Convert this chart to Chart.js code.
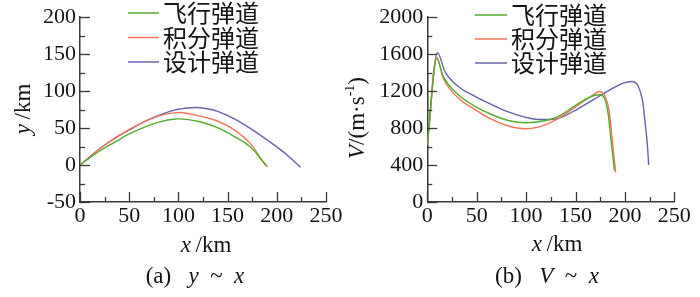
<!DOCTYPE html>
<html>
<head>
<meta charset="utf-8">
<script src="https://cdn.jsdelivr.net/npm/chart.js@4.4.1/dist/chart.umd.min.js"></script>
<style>
  html, body { margin: 0; padding: 0; background: #fff; }
  #fig { position: relative; width: 700px; height: 297px; overflow: hidden; }
  .panel { position: absolute; top: 0; height: 297px; }
  #panelA { left: 0; width: 345px; }
  #panelB { left: 345px; width: 355px; }
</style>
</head>
<body>
<div id="fig">
  <div class="panel" id="panelA"><canvas id="chartA"></canvas></div>
  <div class="panel" id="panelB"><canvas id="chartB"></canvas></div>
</div>
<script>
// series names and colours
const seriesNames = ['飞行弹道', '积分弹道', '设计弹道'];
const seriesColors = ['#55ad2c', '#f37458', '#6464aa'];

// (a) y ~ x   (x in km, y in km)
const flightTrajX = [0, 10, 20, 30, 40, 50, 65, 80, 97, 110, 122, 139, 156, 173, 184.6, 189.5];
const flightTrajY = [0, 10, 19, 27, 34.5, 42, 51, 58, 62.3, 61.5, 58.5, 50.9, 39.2, 24.7, 6.8, -1.5];
const integTrajX  = [0, 10, 20, 30, 40, 50, 65, 80, 95, 105, 122, 139, 156, 173, 184.6, 191];
const integTrajY  = [0, 11, 22, 31.5, 40, 48, 58.5, 66.5, 70.5, 70.8, 66.2, 59.9, 48.2, 29.3, 6.8, -2.5];
const designTrajX = [0, 10, 20, 30, 40, 50, 65, 80, 95, 112, 122, 139, 156, 173, 190, 207, 224];
const designTrajY = [0, 11, 22, 31.5, 40, 47.5, 58.5, 67, 74, 77.5, 77.5, 73, 63, 49.6, 34.2, 17.5, -3];

// (b) V ~ x   (x in km, V in m/s)
const flightVelX = [0, 9.5, 16.2, 31.4, 48.3, 65.2, 82, 98.9, 112.3, 124.2, 134.3, 151.2, 168, 174.8, 179.9, 183.2, 185.6, 188.3, 189.3];
const flightVel  = [620, 1553, 1357, 1161, 1036, 947, 882, 857, 868, 893, 935, 1054, 1150, 1161, 1107, 946, 696, 447, 340];
const integVelX  = [0, 9.5, 16.2, 31.4, 48.3, 65.2, 82, 98.9, 112.3, 124.2, 134.3, 151.2, 168, 174.1, 179.9, 184.2, 186.6, 189, 190.7];
const integVel   = [620, 1565, 1339, 1125, 1000, 893, 822, 793, 811, 857, 915, 1036, 1161, 1196, 1143, 982, 732, 482, 321];
const designVelX = [0, 10.3, 17.9, 31.4, 48.3, 65.2, 82, 98.9, 112.3, 124.2, 134.3, 151.2, 168, 184.9, 198.4, 206.9, 213.6, 218, 220.3, 222.7, 224.1];
const designVel  = [620, 1615, 1411, 1250, 1143, 1054, 975, 918, 893, 893, 911, 1000, 1107, 1214, 1286, 1304, 1250, 1089, 875, 625, 400];

// axis ranges / ticks
const xRange = [0, 250], xMajor = 50, xMinor = 25;
const yRangeA = [-50, 200], yMajorA = 50, yMinorA = 25;
const yRangeB = [0, 2000], yMajorB = 400, yMinorB = 200;

const serif = '"Liberation Serif", "DejaVu Serif", serif';
const cjk = '"Noto Sans CJK SC", sans-serif';
const axisColor = '#3f3733';
const textColor = '#141414';

function toPoints(xs, ys) {
    return xs.map((x, i) => ({ x: x, y: ys[i] }));
}

function makeDatasets(pairs, mode) {
    return pairs.map((p, i) => ({
        label: seriesNames[i],
        data: toPoints(p[0], p[1]),
        borderColor: seriesColors[i],
        borderWidth: 1.4,
        pointRadius: 0,
        fill: false,
        tension: 0.4,
        cubicInterpolationMode: mode
    }));
}

// draw a row of text pieces with mixed styles, centred on x
function drawRuns(ctx, runs, x, y) {
    let w = 0;
    runs.forEach(r => {
        ctx.font = r.font;
        w += ctx.measureText(r.text).width;
    });
    let cx = x - w / 2;
    runs.forEach(r => {
        ctx.font = r.font;
        ctx.fillText(r.text, cx, y + (r.dy || 0));
        cx += ctx.measureText(r.text).width;
    });
}

function run(text, italic, size, dy) {
    return { text: text, font: (italic ? 'italic ' : '') + (size || 23) + 'px ' + serif, dy: dy || 0 };
}

// ticks pointing into the plot, major and minor
const inwardTicks = {
    id: 'inwardTicks',
    afterDraw(chart, args, opts) {
        const ctx = chart.ctx;
        const area = chart.chartArea;
        ctx.save();
        ctx.strokeStyle = axisColor;
        ctx.lineWidth = 1.3;
        ['x', 'y'].forEach(id => {
            const s = chart.scales[id];
            const o = opts[id];
            for (let v = s.min; v <= s.max + 1e-6; v += o.minor) {
                const isMajor = Math.abs(v / o.major - Math.round(v / o.major)) < 1e-6;
                const len = isMajor ? 10 : 5;
                const p = Math.round(s.getPixelForValue(v)) + 0.5;
                ctx.beginPath();
                if (id === 'x') {
                    ctx.moveTo(p, area.bottom);
                    ctx.lineTo(p, area.bottom - len);
                } else {
                    ctx.moveTo(area.left, p);
                    ctx.lineTo(area.left + len, p);
                }
                ctx.stroke();
            }
        });
        ctx.restore();
    }
};

// legend, axis titles and caption
const figureText = {
    id: 'figureText',
    afterDraw(chart, args, o) {
        const ctx = chart.ctx;
        ctx.save();
        ctx.textBaseline = 'middle';
        ctx.textAlign = 'left';
        chart.data.datasets.forEach((ds, i) => {
            const y = o.legendY + i * o.legendDy;
            ctx.strokeStyle = ds.borderColor;
            ctx.lineWidth = 1.5;
            ctx.beginPath();
            ctx.moveTo(o.legendX, y);
            ctx.lineTo(o.legendX + o.legendLen, y);
            ctx.stroke();
            ctx.fillStyle = textColor;
            ctx.font = '24px ' + cjk;
            ctx.fillText(ds.label, o.legendX + o.legendLen + 4, y);
        });
        ctx.fillStyle = textColor;
        drawRuns(ctx, o.xTitle, o.xTitleX, o.xTitleY);
        drawRuns(ctx, o.caption, o.captionX, o.captionY);
        ctx.translate(o.yTitleX, o.yTitleY);
        ctx.rotate(-Math.PI / 2);
        drawRuns(ctx, o.yTitle, 0, 0);
        ctx.restore();
    }
};

function makeChart(canvasId, datasets, yRange, yMajor, yMinor, yWidth, pad, text) {
    return new Chart(document.getElementById(canvasId), {
        type: 'line',
        data: { datasets: datasets },
        plugins: [inwardTicks, figureText],
        options: {
            responsive: true,
            maintainAspectRatio: false,
            animation: false,
            layout: { padding: pad },
            plugins: {
                legend: { display: false },
                tooltip: { enabled: false },
                inwardTicks: {
                    x: { major: xMajor, minor: xMinor },
                    y: { major: yMajor, minor: yMinor }
                },
                figureText: text
            },
            scales: {
                x: {
                    type: 'linear',
                    min: xRange[0],
                    max: xRange[1],
                    grid: { display: false, drawTicks: false },
                    border: { display: true, color: axisColor, width: 1.5 },
                    ticks: {
                        stepSize: xMajor,
                        color: textColor,
                        font: { family: serif, size: 22 },
                        padding: 1,
                        maxRotation: 0,
                        autoSkip: false,
                        callback: v => String(v)
                    },
                    afterFit: s => { s.height = 95; }
                },
                y: {
                    type: 'linear',
                    min: yRange[0],
                    max: yRange[1],
                    grid: { display: false, drawTicks: false },
                    border: { display: true, color: axisColor, width: 1.5 },
                    ticks: {
                        stepSize: yMajor,
                        color: textColor,
                        font: { family: serif, size: 22 },
                        padding: 4,
                        autoSkip: false,
                        callback: v => String(v)
                    },
                    afterFit: s => { s.width = yWidth; }
                }
            }
        }
    });
}

makeChart('chartA',
    makeDatasets([[flightTrajX, flightTrajY], [integTrajX, integTrajY], [designTrajX, designTrajY]], 'default'),
    yRangeA, yMajorA, yMinorA, 80,
    { top: 17, right: 19, bottom: 0, left: 0 },
    {
        legendX: 128, legendY: 13, legendDy: 24.5, legendLen: 31,
        xTitle: [run('x', true), run('\u2009/km')], xTitleX: 206, xTitleY: 246,
        yTitle: [run('y', true), run('\u2009/km')], yTitleX: 24, yTitleY: 109,
        caption: [run('(a)   '), run('y', true), run('  ~  '), run('x', true)], captionX: 195, captionY: 277
    });

makeChart('chartB',
    makeDatasets([[flightVelX, flightVel], [integVelX, integVel], [designVelX, designVel]], 'monotone'),
    yRangeB, yMajorB, yMinorB, 82.3,
    { top: 15, right: 25.7, bottom: 0, left: 0 },
    {
        legendX: 130, legendY: 15, legendDy: 24, legendLen: 32,
        xTitle: [run('x', true), run('\u2009/km')], xTitleX: 212, xTitleY: 245,
        yTitle: [run('V', true), run('/(m·s'), run('-1', false, 14, -8), run(')')], yTitleX: 13, yTitleY: 118,
        caption: [run('(b)   '), run('V', true), run('  ~  '), run('x', true)], captionX: 202, captionY: 277
    });
</script>
</body>
</html>
